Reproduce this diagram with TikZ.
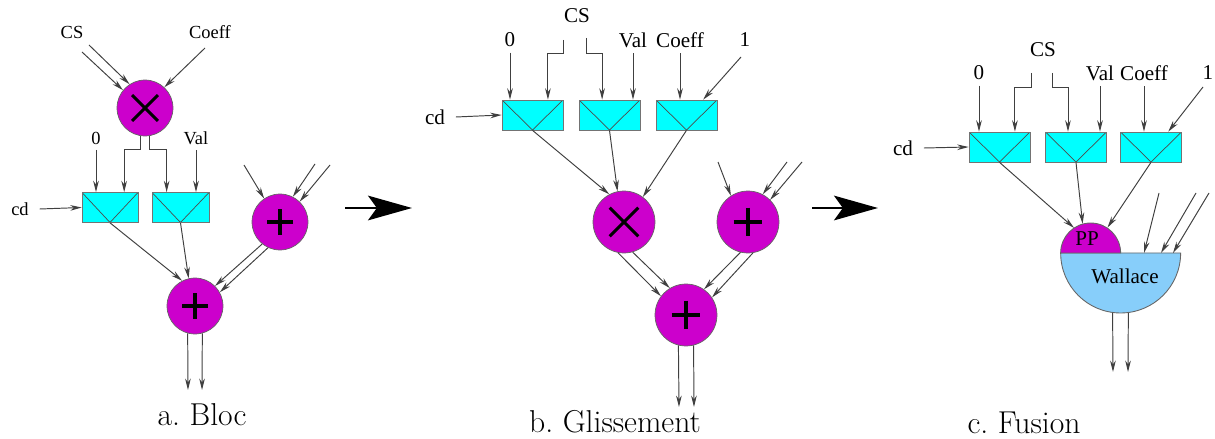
\documentclass[tikz,border=0pt]{standalone}
\usepackage{fontspec}
\newfontfamily\timesfont{Liberation Serif}
\usepackage{tikz}
\usetikzlibrary{arrows.meta,calc,positioning}
\definecolor{opmag}{RGB}{204,0,204}
\definecolor{regcyan}{RGB}{0,255,255}
\definecolor{wallblue}{RGB}{135,206,250}
\frenchspacing
\tikzset{
  wire/.style={draw=black!75, line width=0.55pt},
  arr/.style={wire, -{Stealth[length=6.5pt,width=3.2pt]}},
  bigarr/.style={line width=1.5pt, -{Stealth[length=25pt,width=14pt,inset=5pt]}},
  lbl/.style={font=\timesfont\fontsize{#1}{#1}\selectfont, inner xsep=1pt, inner ysep=3pt},
  lbl/.default=10.5,
  caption/.style={font=\fontsize{18}{20}\selectfont, inner sep=0pt},
  regbox/.style={draw=black!55, fill=regcyan, minimum width=#1, minimum height=0.6cm, inner sep=0pt,
    path picture={\draw[black!70, line width=0.4pt] (path picture bounding box.north west)
      -- (path picture bounding box.south) -- (path picture bounding box.north east);}},
  regbox/.default=1.22cm,
  opnode/.style={circle, draw=black!60, fill=opmag, minimum size=#1, inner sep=0pt},
  mulop/.style={opnode=#1, path picture={\draw[draw=black, line width=1.8pt]
      ($(path picture bounding box.center)!0.46!(path picture bounding box.north east)$) --
      ($(path picture bounding box.center)!0.46!(path picture bounding box.south west)$)
      ($(path picture bounding box.center)!0.46!(path picture bounding box.north west)$) --
      ($(path picture bounding box.center)!0.46!(path picture bounding box.south east)$);}},
  addop/.style={opnode=#1, path picture={\draw[draw=black, line width=1.8pt]
      ($(path picture bounding box.center)!0.46!(path picture bounding box.north)$) --
      ($(path picture bounding box.center)!0.46!(path picture bounding box.south)$)
      ($(path picture bounding box.center)!0.46!(path picture bounding box.west)$) --
      ($(path picture bounding box.center)!0.46!(path picture bounding box.east)$);}},
  halfpart/.style={draw=black!60, line width=0.5pt},
}

\begin{document}
\begin{tikzpicture}[x=0.02cm, y=-0.02cm]
  \useasboundingbox (0,0) rectangle (1215,439);

  % a. Bloc
  \node[lbl] (csA) at (72,32) {CS};
  \node[lbl] (coeffA) at (210,32) {Coeff};
  \node[mulop=1.12cm] (mulA) at (145,108) {};
  \node[lbl] (zeroA) at (96,138) {0};
  \node[lbl] (valA) at (196,138) {Val};
  \node[regbox=1.12cm] (boxA1) at (110,207.5) {};
  \node[regbox=1.14cm] (boxA2) at (180.5,207.5) {};
  \node[lbl, inner xsep=6pt] (cdA) at (20,209) {cd};
  \node[addop=1.12cm] (addA1) at (280,222) {};
  \node[addop=1.12cm] (addA2) at (195,306) {};
  \node[caption] (capA) at (202,415) {a. Bloc};

  \coordinate (csA1) at (82,52);
  \coordinate (csA2) at (89,45);
  \coordinate (coA) at (205,48);
  \coordinate (inA1) at (244,165);
  \coordinate (inA2) at (315,164);
  \coordinate (inA3) at (330,165);
  \coordinate (outA1) at (188,390);
  \coordinate (outA2) at (202,390);

  \draw[arr] (csA1) -- (mulA.141);
  \draw[arr] (csA2) -- (mulA.123);
  \draw[arr] (coA) -- (mulA.47);
  \draw[arr] (mulA.260) -- ++(0,14) -| ($(boxA1.north)!0.5!(boxA1.north east)$);
  \draw[arr] (mulA.280) -- ++(0,14) -| ($(boxA2.north west)!0.26!(boxA2.north east)$);
  \draw[arr] (zeroA.south) -- (zeroA.south |- boxA1.north);
  \draw[arr] (valA.south) -- (valA.south |- boxA2.north);
  \draw[arr] (cdA.east) -- (boxA1.west);
  \draw[arr] (inA1) -- (addA1.124);
  \draw[arr] (inA2) -- (addA1.63);
  \draw[arr] (inA3) -- (addA1.46);
  \draw[arr] (boxA1.south) -- (addA2.117);
  \draw[arr] (boxA2.south) -- (addA2.103);
  \draw[arr] (addA1.231) -- (addA2.45);
  \draw[arr] (addA1.245) -- (addA2.29);
  \draw[arr] (addA2.255) -- (outA1);
  \draw[arr] (addA2.285) -- (outA2);

  \coordinate (stepA1) at (345,208);
  \coordinate (stepA2) at (412,208);
  \draw[bigarr] (stepA1) -- (stepA2);

  % b. Glissement
  \node[lbl=12] (csB) at (577,16) {CS};
  \node[lbl=12] (zeroB) at (510,40) {0};
  \node[lbl=12] (valB) at (633,40) {Val};
  \node[lbl=12] (coeffB) at (680,40) {Coeff};
  \node[lbl=12] (oneB) at (745,40) {1};
  \node[regbox] (boxB1) at (532.5,115) {};
  \node[regbox] (boxB2) at (609.5,115) {};
  \node[regbox] (boxB3) at (686.5,115) {};
  \node[lbl=12, inner xsep=6pt] (cdB) at (435,117) {cd};
  \node[mulop=1.24cm] (mulB) at (624,222) {};
  \node[addop=1.24cm] (addB1) at (748,222) {};
  \node[addop=1.24cm] (addB2) at (686,315) {};
  \node[caption] (capB) at (615,422) {b. Glissement};

  \coordinate (csB1) at (563,40);
  \coordinate (csB2) at (586,38);
  \coordinate (oneBs) at (741,57);
  \coordinate (inB1) at (718,162);
  \coordinate (inB2) at (787,162);
  \coordinate (inB3) at (802,162);
  \coordinate (outB1) at (679,407);
  \coordinate (outB2) at (694,407);

  \draw[arr] (zeroB.south) -- (zeroB.south |- boxB1.north);
  \draw[arr] (csB1) -- ++(0,13) -| ($(boxB1.north west)!0.75!(boxB1.north east)$);
  \draw[arr] (csB2) -- ++(0,15) -| ($(boxB2.north west)!0.38!(boxB2.north east)$);
  \draw[arr] (valB.south) -- (valB.south |- boxB2.north);
  \draw[arr] (coeffB.south) -- (coeffB.south |- boxB3.north);
  \draw[arr] (oneBs) -- ($(boxB3.north west)!0.77!(boxB3.north east)$);
  \draw[arr] (cdB.east) -- (boxB1.west);
  \draw[arr] (boxB1.south) -- (mulB.118);
  \draw[arr] (boxB2.south) -- (mulB.102);
  \draw[arr] (boxB3.south) -- (mulB.53);
  \draw[arr] (inB1) -- (addB1.123);
  \draw[arr] (inB2) -- (addB1.62);
  \draw[arr] (inB3) -- (addB1.45);
  \draw[arr] (mulB.259) -- (addB2.143);
  \draw[arr] (mulB.286) -- (addB2.121);
  \draw[arr] (addB1.256) -- (addB2.55);
  \draw[arr] (addB1.279) -- (addB2.34);
  \draw[arr] (addB2.256) -- (outB1);
  \draw[arr] (addB2.284) -- (outB2);

  \coordinate (stepB1) at (812,208);
  \coordinate (stepB2) at (878,208);
  \draw[bigarr] (stepB1) -- (stepB2);

  % c. Fusion
  \node[lbl=12] (csC) at (1043,50) {CS};
  \node[lbl=12] (zeroC) at (979,73) {0};
  \node[lbl=12] (valC) at (1100,73) {Val};
  \node[lbl=12] (coeffC) at (1144,73) {Coeff};
  \node[lbl=12] (oneC) at (1208,73) {1};
  \node[regbox] (boxC1) at (999.5,147) {};
  \node[regbox] (boxC2) at (1076,147) {};
  \node[regbox] (boxC3) at (1151,147) {};
  \node[lbl=12, inner xsep=6pt] (cdC) at (903,148) {cd};
  \node[circle, minimum size=1.2cm, inner sep=0pt] (ppC) at (1091,253) {};
  \node[circle, minimum size=2.4cm, inner sep=0pt] (wallC) at (1121,253) {};
  \draw[halfpart, fill=wallblue] (wallC.west) arc[start angle=180, end angle=360, radius=1.2cm] -- cycle;
  \draw[halfpart, fill=opmag] (ppC.west) arc[start angle=180, end angle=0, radius=0.6cm] -- cycle;
  \node[lbl=12] (ppL) at (1087,239) {PP};
  \node[lbl=12] (wallL) at (1125,276) {Wallace};
  \node[caption] (capC) at (1024,423) {c. Fusion};

  \coordinate (csC1) at (1031,73);
  \coordinate (csC2) at (1052,73);
  \coordinate (oneCs) at (1203,87);
  \coordinate (inC1) at (1159,193);
  \coordinate (inC2) at (1196,193);
  \coordinate (inC3) at (1209,193);
  \coordinate (wIn1) at ($(wallC.center)+(23,0)$);
  \coordinate (wIn2) at ($(wallC.center)+(40,0)$);
  \coordinate (wIn3) at ($(wallC.center)+(52,0)$);
  \coordinate (outC1) at (1113,372);
  \coordinate (outC2) at (1128,372);

  \draw[arr] (zeroC.south) -- (zeroC.south |- boxC1.north);
  \draw[arr] (csC1) -- ++(0,14) -| ($(boxC1.north west)!0.75!(boxC1.north east)$);
  \draw[arr] (csC2) -- ++(0,14) -| ($(boxC2.north west)!0.37!(boxC2.north east)$);
  \draw[arr] (valC.south) -- (valC.south |- boxC2.north);
  \draw[arr] (coeffC.south) -- (coeffC.south |- boxC3.north);
  \draw[arr] (oneCs) -- ($(boxC3.north west)!0.78!(boxC3.north east)$);
  \draw[arr] (cdC.east) -- (boxC1.west);
  \draw[arr] (boxC1.south) -- (ppC.124);
  \draw[arr] (boxC2.south) -- (ppC.106);
  \draw[arr] (boxC3.south) -- (ppC.57);
  \draw[arr] (inC1) -- (wIn1);
  \draw[arr] (inC2) -- (wIn2);
  \draw[arr] (inC3) -- (wIn3);
  \draw[arr] (wallC.262) -- (outC1);
  \draw[arr] (wallC.277) -- (outC2);
\end{tikzpicture}
\end{document}
